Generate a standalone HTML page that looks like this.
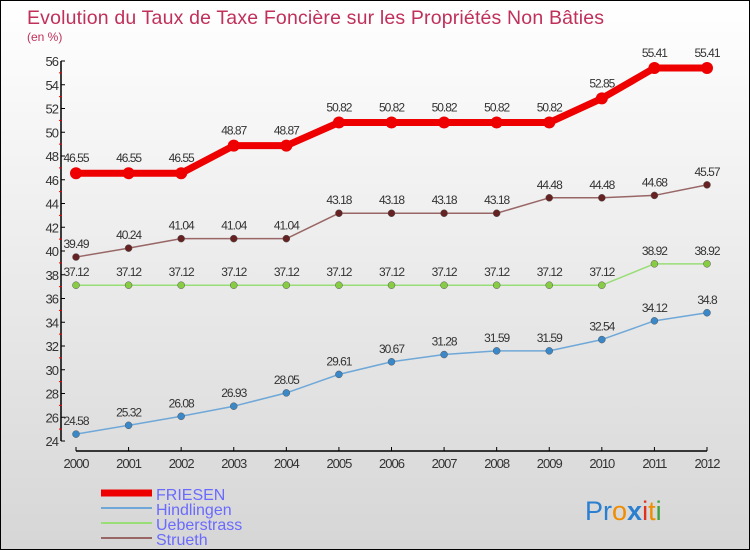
<!DOCTYPE html>
<html><head><meta charset="utf-8"><style>
body{margin:0;}
#c{width:748px;height:548px;border:1px solid #000;background:linear-gradient(#ffffff,#d6d6d6);position:relative;overflow:hidden;font-family:"Liberation Sans",sans-serif;}
</style></head><body>
<div id="c">
<svg id="s" width="748" height="548" xmlns="http://www.w3.org/2000/svg">
<text x="26" y="23" font-size="19.5" fill="#c0305a" textLength="577">Evolution du Taux de Taxe Foncière sur les Propriétés Non Bâties</text>
<text x="26" y="40" font-size="12" fill="#c0305a">(en %)</text>
<g id="axes"></g><g id="series"></g>
<g>
<line x1="100" y1="492" x2="151" y2="492" stroke="#ee0000" stroke-width="7"/>
<text x="155" y="499" font-size="16" fill="#6a6aff">FRIESEN</text>
<line x1="100" y1="507" x2="151" y2="507" stroke="#6fa8d8" stroke-width="2"/>
<text x="155" y="514" font-size="16" fill="#6a6aff">Hindlingen</text>
<line x1="100" y1="522" x2="151" y2="522" stroke="#99dd77" stroke-width="2"/>
<text x="155" y="529" font-size="16" fill="#6a6aff">Ueberstrass</text>
<line x1="100" y1="537" x2="151" y2="537" stroke="#996666" stroke-width="2"/>
<text x="155" y="544" font-size="16" fill="#6a6aff">Strueth</text>
</g>
<text x="584" y="519" font-size="27"><tspan fill="#2a7fd0">Pr</tspan><tspan fill="#f08c00">o</tspan><tspan fill="#2a7fd0" font-weight="bold">x</tspan><tspan fill="#e03020">i</tspan><tspan fill="#f08c00">t</tspan><tspan fill="#40a040">i</tspan></text>
</svg>
</div>
<script>
const years=[2000,2001,2002,2003,2004,2005,2006,2007,2008,2009,2010,2011,2012];
const friesen=[46.55,46.55,46.55,48.87,48.87,50.82,50.82,50.82,50.82,50.82,52.85,55.41,55.41];
const hindlingen=[24.58,25.32,26.08,26.93,28.05,29.61,30.67,31.28,31.59,31.59,32.54,34.12,34.8];
const ueberstrass=[37.12,37.12,37.12,37.12,37.12,37.12,37.12,37.12,37.12,37.12,37.12,38.92,38.92];
const strueth=[39.49,40.24,41.04,41.04,41.04,43.18,43.18,43.18,43.18,44.48,44.48,44.68,45.57];
const yTicks=[24,26,28,30,32,34,36,38,40,42,44,46,48,50,52,54,56];
const NS="http://www.w3.org/2000/svg";
function X(i){return 75+i*(706-75)/(years.length-1);}
function Y(v){return 440-(v-24)*(380/32);}
function mk(t,a,p){const e=document.createElementNS(NS,t);for(const k in a)e.setAttribute(k,a[k]);p.appendChild(e);return e;}
const ax=document.getElementById('axes'),sg=document.getElementById('series');
const yl=mk('line',{x1:60,y1:Y(56),x2:60,y2:Y(24),stroke:'#000','stroke-width':1.5},ax);


const xl=mk('line',{x1:75,y1:450,x2:706,y2:450,stroke:'#000','stroke-width':1.5},ax);


yTicks.forEach(v=>{
 mk('line',{x1:60,y1:Y(v),x2:64,y2:Y(v),stroke:'#000'},ax);
 if(v<56)mk('line',{x1:58,y1:Y(v+1),x2:61,y2:Y(v+1),stroke:'#e00'},ax);
 const t=mk('text',{x:57,y:Y(v)+5,'font-size':13,fill:'#333','text-anchor':'end','letter-spacing':'-1'},ax);
 t.textContent=v;
 
 
});
years.forEach((y,i)=>{
 mk('line',{x1:X(i),y1:446,x2:X(i),y2:450,stroke:'#000'},ax);
 const t=mk('text',{x:X(i),y:467,'font-size':13,fill:'#333','text-anchor':'middle','letter-spacing':'-1'},ax);
 t.textContent=y;
 
 
});
function series(d,name,col,w,r,dot){
 const g=mk('g',{},sg);
 
 
 const pl=mk('polyline',{points:d.map((v,i)=>X(i)+','+Y(v)).join(' '),fill:'none',stroke:col,'stroke-width':w,'stroke-linejoin':'round'},g);
 
 
 d.forEach((v,i)=>{
  const c=mk('circle',{cx:X(i),cy:Y(v),r:r,fill:dot,stroke:w>3?'none':'#555','stroke-width':0.5},g);
  
  
  const t=mk('text',{x:X(i),y:Y(v)-(w>3?11:9),'font-size':12,fill:'#333','text-anchor':'middle','letter-spacing':'-1'},g);
  t.textContent=v;
  
  
 });
}
series(hindlingen,'hindlingen','#6fa8d8',1.5,3.5,'#3a88c8');
series(ueberstrass,'ueberstrass','#99dd77',1.5,3.5,'#88cc44');
series(strueth,'strueth','#996666',1.5,3.5,'#662222');
series(friesen,'friesen','#ee0000',7,6,'#ee0000');
</script>
</body></html>
